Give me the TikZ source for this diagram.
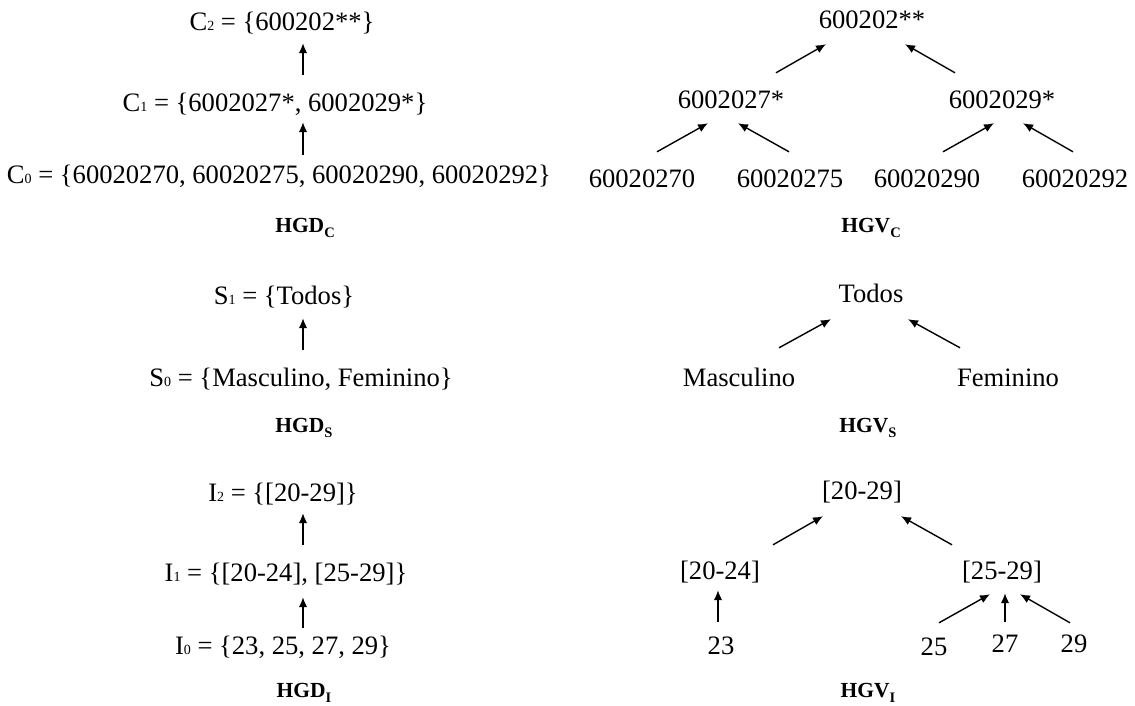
\documentclass[tikz,border=0pt]{standalone}
\usepackage{fontspec}
\setmainfont{Liberation Serif}
\usetikzlibrary{arrows.meta}
% small level index written beside the set name
\newcommand{\lvl}[1]{{\fontsize{14}{14}\selectfont #1}}
% bold caption with a lowered bold index
\newcommand{\hcap}[2]{{\bfseries #1\raisebox{-5pt}{\fontsize{14.5}{14.5}\selectfont\bfseries #2}}}
\begin{document}
\begin{tikzpicture}[x=1pt,y=-1pt,
  lbl/.style={inner sep=0pt, text height=18pt, text depth=0pt, font=\fontsize{26.6}{30}\selectfont},
  caption/.style={inner sep=0pt, text height=14.5pt, text depth=0pt, font=\fontsize{21.5}{24}\selectfont},
  arr/.style={-{Latex[length=10pt,width=8.5pt]}, line width=1.4pt}]
\path[use as bounding box] (0,0) rectangle (1135,706);

% ---------- HGD_C ----------
\node[lbl] (c2) at (282,22) {C\lvl{2} = \{600202**\}};
\node[lbl] (c1) at (275,103) {C\lvl{1} = \{6002027*, 6002029*\}};
\node[lbl] (c0) at (279,174) {C\lvl{0} = \{60020270, 60020275, 60020290, 60020292\}};
\node[caption] (hgdc) at (305,225) {\hcap{HGD}{C}};
\draw[arr] ([xshift=28pt,yshift=19pt]c1.north) -- ([xshift=21pt,yshift=-12pt]c2.south);
\draw[arr] ([xshift=24pt,yshift=10pt]c0.north) -- ([xshift=28pt,yshift=-10pt]c1.south);

% ---------- HGV_C ----------
\node[lbl] (v0) at (872,20) {600202**};
\node[lbl] (v27) at (731,100) {6002027*};
\node[lbl] (v29) at (1002,100) {6002029*};
\node[lbl] (l1) at (642,178) {60020270};
\node[lbl] (l2) at (790,178) {60020275};
\node[lbl] (l3) at (927,178) {60020290};
\node[lbl] (l4) at (1075,178) {60020292};
\node[caption] (hgvc) at (871,225) {\hcap{HGV}{C}};
\draw[arr] ([xshift=45pt,yshift=18pt]v27.north) -- ([xshift=-46pt,yshift=-15pt]v0.south);
\draw[arr] ([xshift=-47pt,yshift=18pt]v29.north) -- ([xshift=33pt,yshift=-15pt]v0.south);
\draw[arr] ([xshift=15pt,yshift=17pt]l1.north) -- ([xshift=-23pt,yshift=-14pt]v27.south);
\draw[arr] ([xshift=-1pt,yshift=17pt]l2.north) -- ([xshift=7pt,yshift=-14pt]v27.south);
\draw[arr] ([xshift=16pt,yshift=17pt]l3.north) -- ([xshift=-8pt,yshift=-14pt]v29.south);
\draw[arr] ([xshift=-2pt,yshift=17pt]l4.north) -- ([xshift=21pt,yshift=-14pt]v29.south);

% ---------- HGD_S ----------
\node[lbl] (s1) at (284,295) {S\lvl{1} = \{Todos\}};
\node[lbl] (s0) at (301,377) {S\lvl{0} = \{Masculino, Feminino\}};
\node[caption] (hgds) at (304,425) {\hcap{HGD}{S}};
\draw[arr] ([xshift=2pt,yshift=18pt]s0.north) -- ([xshift=19pt,yshift=-14pt]s1.south);

% ---------- HGV_S ----------
\node[lbl] (todos) at (871,293) {Todos};
\node[lbl] (masc) at (739,377) {Masculino};
\node[lbl] (fem) at (1008,377) {Feminino};
\node[caption] (hgvs) at (868,425) {\hcap{HGV}{S}};
\draw[arr] ([xshift=40pt,yshift=20pt]masc.north) -- ([xshift=-40pt,yshift=-17pt]todos.south);
\draw[arr] ([xshift=-48pt,yshift=20pt]fem.north) -- ([xshift=37pt,yshift=-17pt]todos.south);

% ---------- HGD_I ----------
\node[lbl] (i2) at (283,492) {I\lvl{2} = \{[20-29]\}};
\node[lbl] (i1) at (286,572) {I\lvl{1} = \{[20-24], [25-29]\}};
\node[lbl] (i0) at (283,645) {I\lvl{0} = \{23, 25, 27, 29\}};
\node[caption] (hgdi) at (304,690) {\hcap{HGD}{I}};
\draw[arr] ([xshift=17pt,yshift=18pt]i1.north) -- ([xshift=20pt,yshift=-12pt]i2.south);
\draw[arr] ([xshift=20pt,yshift=8pt]i0.north) -- ([xshift=17pt,yshift=-16pt]i1.south);

% ---------- HGV_I ----------
\node[lbl] (r) at (862,490) {[20-29]};
\node[lbl] (ra) at (720,570) {[20-24]};
\node[lbl] (rb) at (1002,570) {[25-29]};
\node[lbl] (n23) at (721,645) {23};
\node[lbl] (n25) at (934,646) {25};
\node[lbl] (n27) at (1005,643) {27};
\node[lbl] (n29) at (1074,643) {29};
\node[caption] (hgvi) at (868,690) {\hcap{HGV}{I}};
\draw[arr] ([xshift=53pt,yshift=16pt]ra.north) -- ([xshift=-39pt,yshift=-17pt]r.south);
\draw[arr] ([xshift=-50pt,yshift=16pt]rb.north) -- ([xshift=39pt,yshift=-17pt]r.south);
\draw[arr] ([xshift=-3pt,yshift=14pt]n23.north) -- ([xshift=-2pt,yshift=-11pt]ra.south);
\draw[arr] ([xshift=5pt,yshift=14pt]n25.north) -- ([xshift=-12pt,yshift=-15pt]rb.south);
\draw[arr] ([xshift=0pt,yshift=12pt]n27.north) -- ([xshift=3pt,yshift=-14pt]rb.south);
\draw[arr] ([xshift=-4pt,yshift=11pt]n29.north) -- ([xshift=18pt,yshift=-15pt]rb.south);
\end{tikzpicture}
\end{document}
